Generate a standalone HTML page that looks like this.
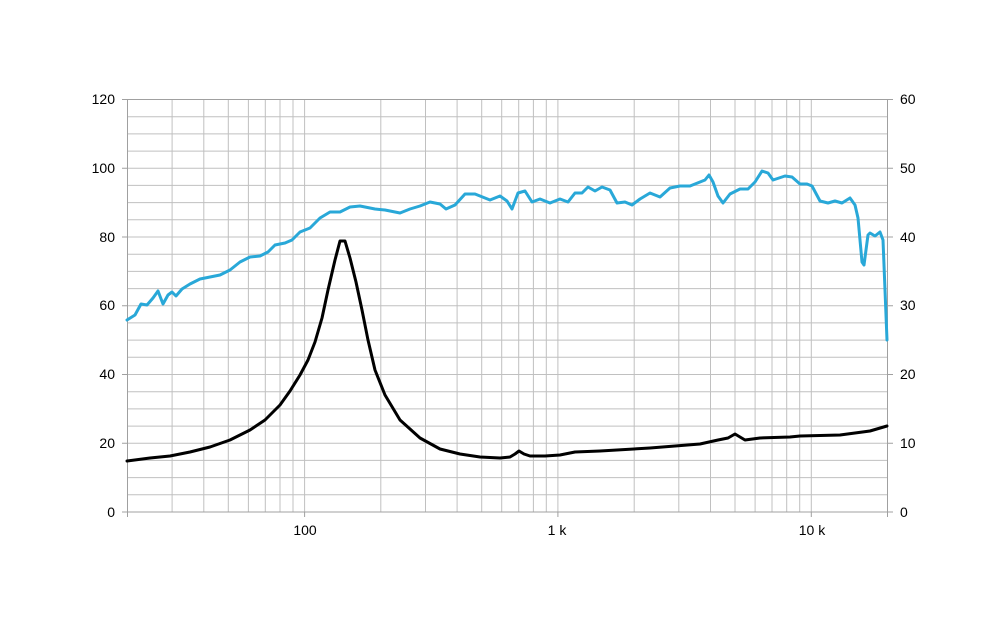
<!DOCTYPE html>
<html><head><meta charset="utf-8"><style>
html,body{margin:0;padding:0;background:#fff;}
svg{display:block;font-family:"Liberation Sans",Arial,sans-serif;}
</style></head><body>
<svg width="1006" height="625" viewBox="0 0 1006 625" xmlns="http://www.w3.org/2000/svg">
<rect width="1006" height="625" fill="#fff"/>
<g stroke="#c0c0c0" stroke-width="1" fill="none">
<path d="M127.5,116.7H887.5M127.5,133.9H887.5M127.5,151.1H887.5M127.5,168.3H887.5M127.5,185.4H887.5M127.5,202.6H887.5M127.5,219.8H887.5M127.5,237H887.5M127.5,254.2H887.5M127.5,271.4H887.5M127.5,288.6H887.5M127.5,305.8H887.5M127.5,322.9H887.5M127.5,340.1H887.5M127.5,357.3H887.5M127.5,374.5H887.5M127.5,391.7H887.5M127.5,408.9H887.5M127.5,426.1H887.5M127.5,443.3H887.5M127.5,460.4H887.5M127.5,477.6H887.5M127.5,494.8H887.5"/>
<path d="M172.1,99.5V512M203.8,99.5V512M228.3,99.5V512M248.4,99.5V512M265.3,99.5V512M280,99.5V512M293,99.5V512M304.6,99.5V512M380.8,99.5V512M425.5,99.5V512M457.1,99.5V512M481.7,99.5V512M501.7,99.5V512M518.7,99.5V512M533.4,99.5V512M546.3,99.5V512M557.9,99.5V512M634.2,99.5V512M678.8,99.5V512M710.5,99.5V512M735,99.5V512M755.1,99.5V512M772,99.5V512M786.7,99.5V512M799.7,99.5V512M811.3,99.5V512"/>
</g>
<rect x="127.5" y="99.5" width="760" height="412.5" fill="none" stroke="#a0a0a0"/>
<path stroke="#a0a0a0" d="M122,99.5H127.5M122,168.3H127.5M122,237H127.5M122,305.8H127.5M122,374.5H127.5M122,443.3H127.5M122,512H127.5M887.5,99.5H893M887.5,168.3H893M887.5,237H893M887.5,305.8H893M887.5,374.5H893M887.5,443.3H893M887.5,512H893M127.5,512V517M304.6,512V517M557.9,512V517M811.3,512V517M887.5,512V517"/>
<g font-size="14" fill="#000" text-anchor="end">
<text x="115" y="104">120</text><text x="115" y="173">100</text><text x="115" y="242">80</text>
<text x="115" y="310">60</text><text x="115" y="379">40</text><text x="115" y="448">20</text><text x="115" y="517">0</text>
</g>
<g font-size="14" fill="#000">
<text x="900" y="104">60</text><text x="900" y="173">50</text><text x="900" y="242">40</text>
<text x="900" y="310">30</text><text x="900" y="379">20</text><text x="900" y="448">10</text><text x="900" y="517">0</text>
</g>
<g font-size="14" fill="#000" text-anchor="middle">
<text x="305" y="535">100</text><text x="557" y="535">1 k</text><text x="812" y="535">10 k</text>
</g>
<polyline fill="none" stroke="#29a8d8" stroke-width="3" stroke-linejoin="round" stroke-linecap="round" points="127,320 135,315 141,304 147,305 153,298 158,291 163,304 168,295 172,292 176,296 182,289 190,284 200,279 210,277 220,275 230,270 240,262 250,257 260,256 268,252 275,245 285,243 292,240 300,232 310,228 320,218 330,212 340,212 350,207 360,206 375,209 385,210 400,213 410,209 420,206 430,202 440,204 446,209 455,205 465,194 475,194 490,200 500,196 507,201 512,209 518,193 525,191 532,202 540,199 550,203 560,199 568,202 575,193 582,193 588,187 595,191 602,187 610,190 617,203 625,202 632,205 640,199 650,193 660,197 670,188 680,186 690,186 700,182 705,180 709,175 713,182 718,196 723,203 730,194 740,189 748,189 755,182 762,171 768,173 773,180 785,176 792,177 800,184 807,184 812,186 820,201 828,203 835,201 842,203 850,198 855,205 858,218 862,262 864,265 868,235 870,233 875,236 880,232 883,240 887,340"/>
<polyline fill="none" stroke="#000" stroke-width="3" stroke-linejoin="round" stroke-linecap="round" points="127,461 150,458 170,456 190,452 210,447 230,440 250,430 265,420 280,405 290,391 300,375 308,360 315,342 322,318 328,290 335,260 340,241 345,241 350,258 356,282 362,310 368,340 375,370 385,395 400,420 420,438 440,449 460,454 480,457 500,458 510,457 515,454 519,451 524,454 530,456 545,456 560,455 575,452 600,451 650,448 700,444 718,440 728,438 735,434 740,437 745,440 760,438 790,437 800,436 840,435 870,431 887,426"/>
</svg>
</body></html>
